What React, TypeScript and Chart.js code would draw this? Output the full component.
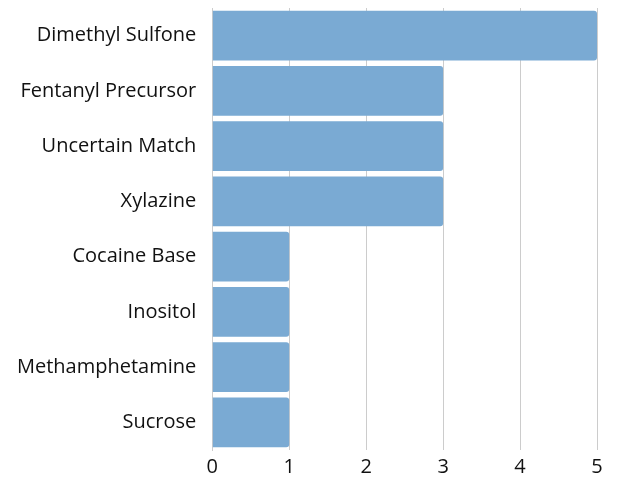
import React, { useEffect, useRef } from "react";
import { Chart, registerables } from "chart.js";

Chart.register(...registerables);

const categories = [
  "Dimethyl Sulfone",
  "Fentanyl Precursor",
  "Uncertain Match",
  "Xylazine",
  "Cocaine Base",
  "Inositol",
  "Methamphetamine",
  "Sucrose",
];
const counts = [5, 3, 3, 3, 1, 1, 1, 1];
const xTicks = [0, 1, 2, 3, 4, 5];

const FONT = "Open Sans";

export default function App() {
  const ref = useRef<HTMLCanvasElement | null>(null);
  useEffect(() => {
    if (!ref.current) return;
    const chart = new Chart(ref.current, {
      type: "bar",
      data: {
        labels: categories,
        datasets: [
          {
            data: counts,
            backgroundColor: "#7aaad3",
            borderRadius: 3,
            borderSkipped: "start",
            barPercentage: 0.9,
            categoryPercentage: 1,
          },
        ],
      },
      options: {
        indexAxis: "y",
        animation: false,
        responsive: false,
        layout: { padding: { top: 8, right: 23, left: 17, bottom: 0 } },
        plugins: { legend: { display: false }, tooltip: { enabled: false } },
        scales: {
          x: {
            min: 0,
            max: 5,
            afterBuildTicks: (axis: any) => {
              axis.ticks = xTicks.map((v) => ({ value: v }));
            },
            afterFit: (axis: any) => {
              axis.paddingLeft = 0;
              axis.paddingRight = 0;
              axis.height = axis.height - 5;
            },
            grid: { color: "#cccccc", drawTicks: false },
            border: { display: false },
            ticks: { color: "#111", font: { family: FONT, size: 20 }, padding: 5 },
          },
          y: {
            afterFit: (axis: any) => {
              axis.paddingTop = 0;
              axis.paddingBottom = 0;
            },
            grid: {
              display: true,
              drawOnChartArea: false,
              drawTicks: true,
              tickLength: 16,
              tickColor: "rgba(0,0,0,0)",
              color: "rgba(0,0,0,0)",
            },
            border: { display: true, color: "#cccccc" },
            ticks: { color: "#111", font: { family: FONT, size: 20 }, padding: 0 },
          },
        },
      },
    });
    return () => chart.destroy();
  }, []);
  return (
    <div style={{ position: "absolute", left: 0, top: 0, width: 620, height: 479 }}>
      <canvas ref={ref} width={620} height={479} style={{ display: "block" }} />
    </div>
  );
}
